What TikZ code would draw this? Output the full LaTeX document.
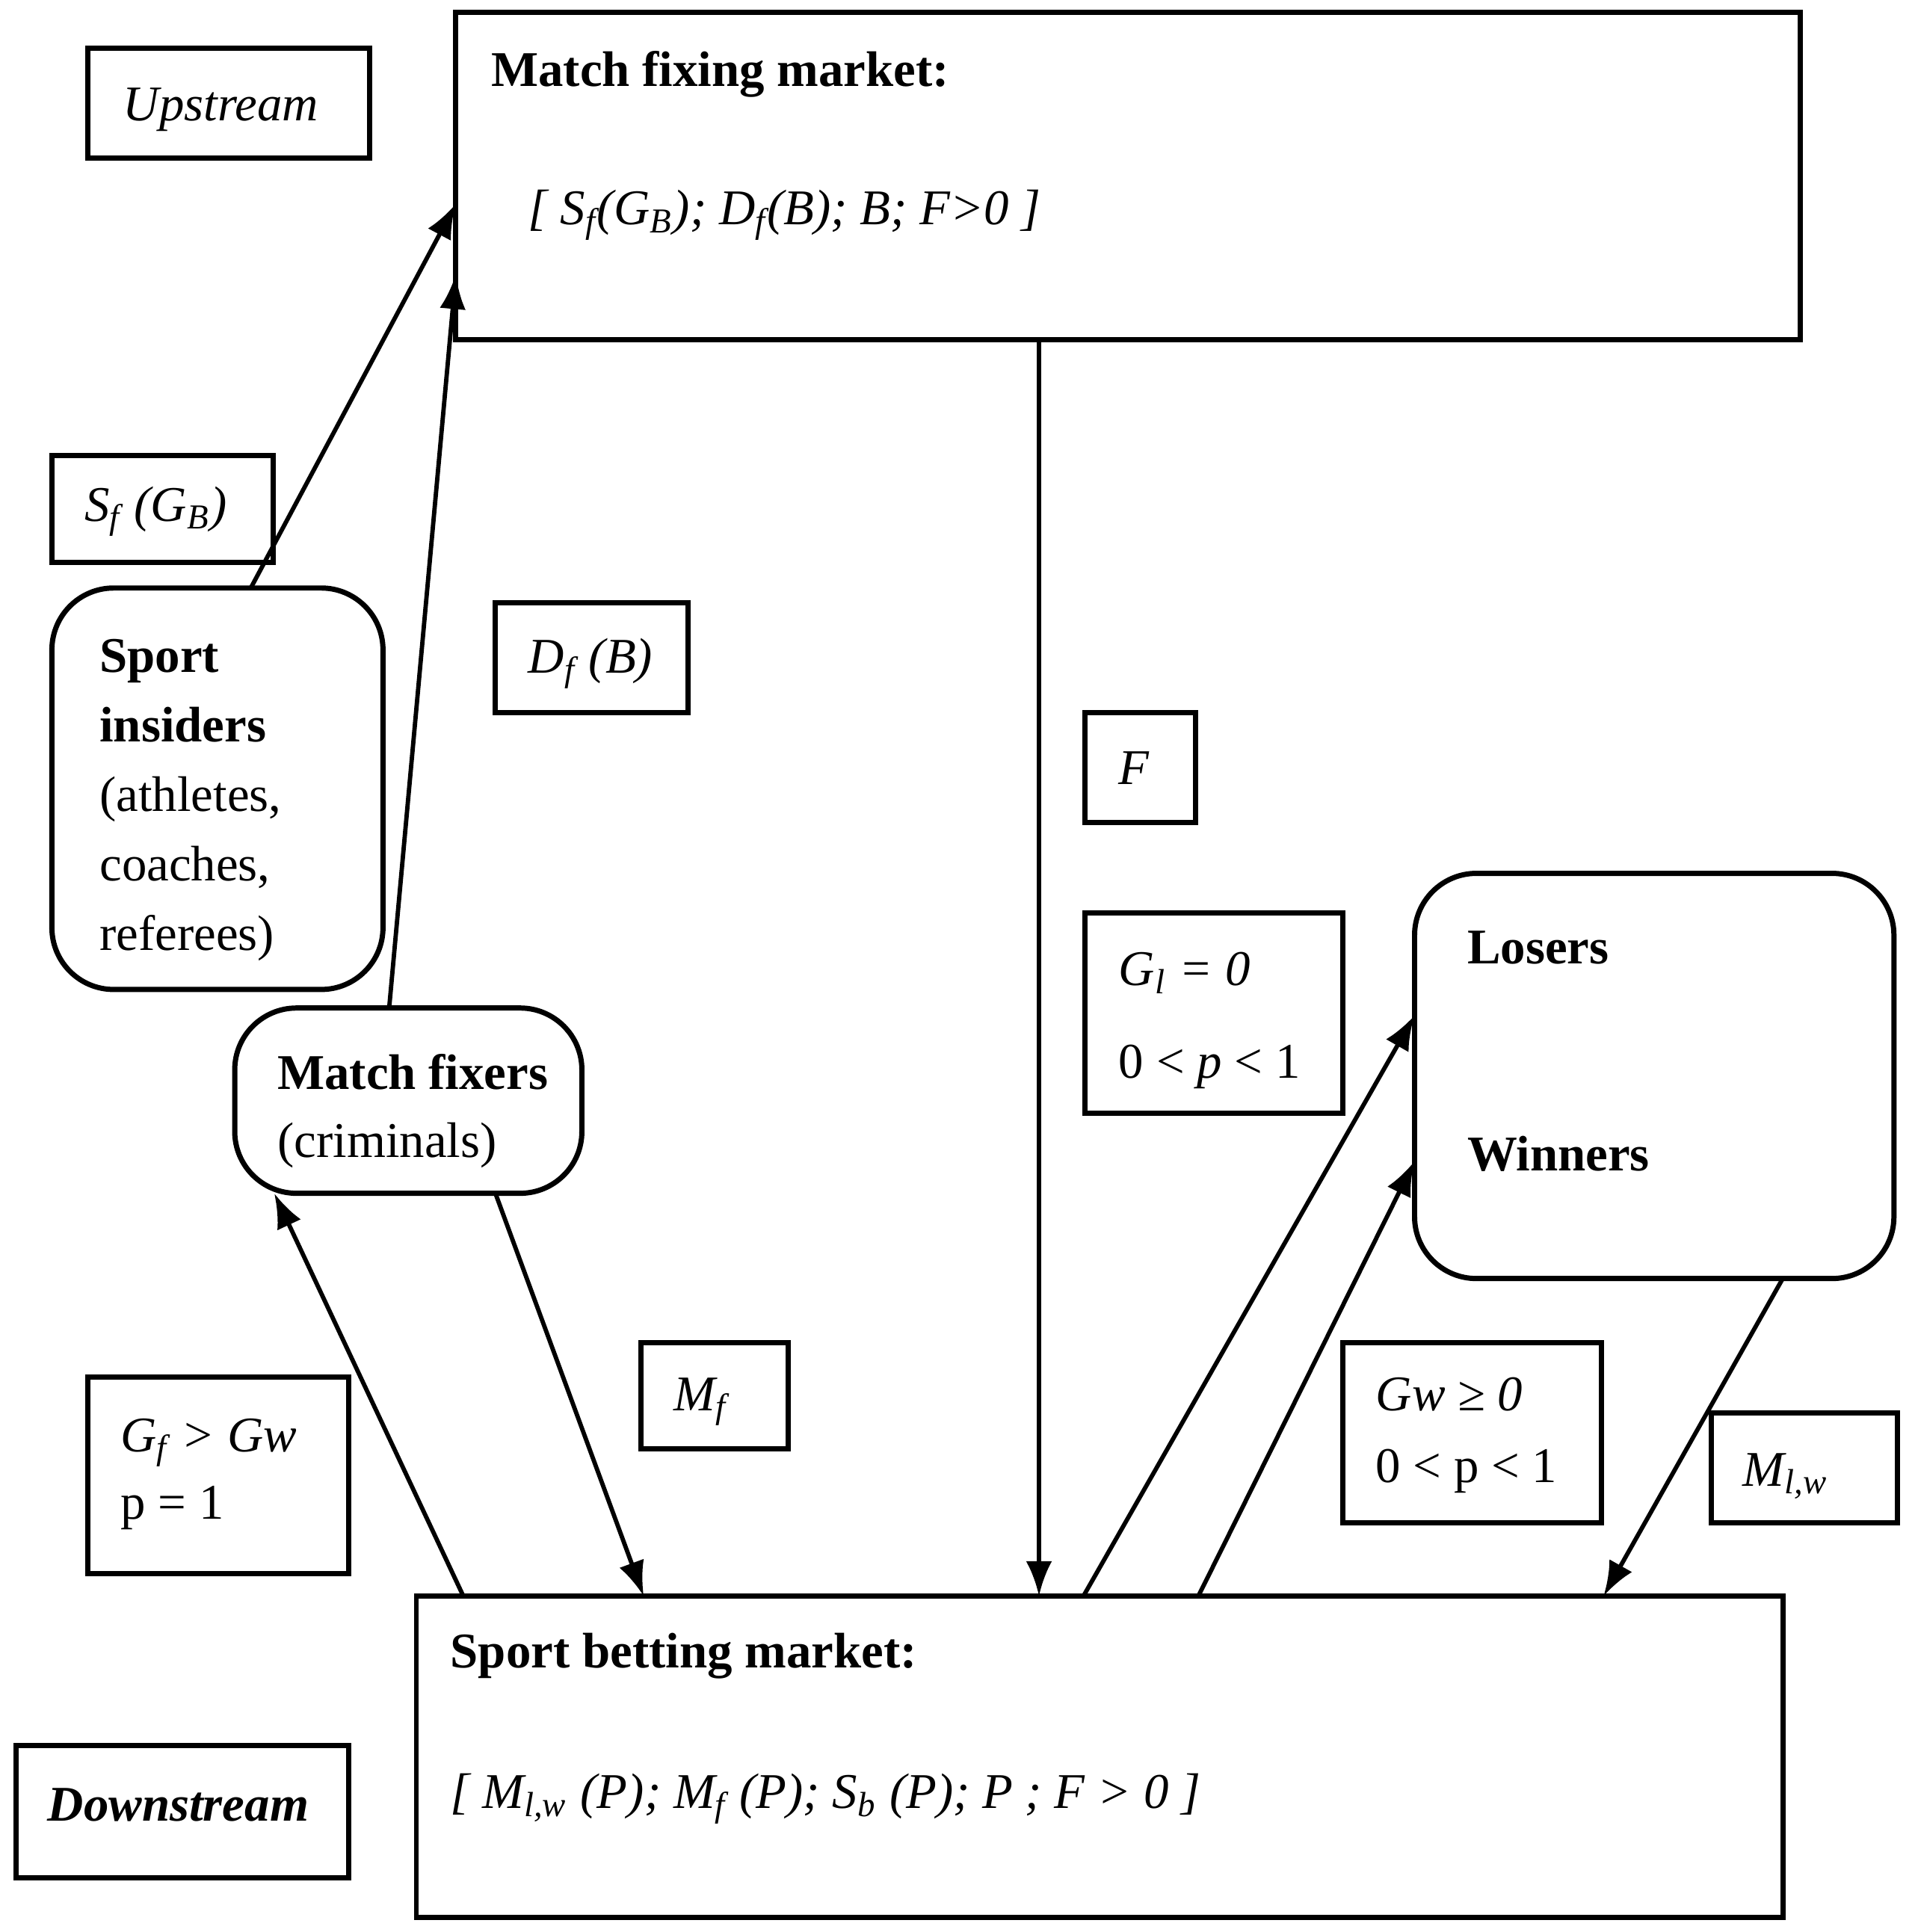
\documentclass[tikz,border=0pt]{standalone}
\usepackage{fontspec}
\setmainfont{Liberation Serif}
\usetikzlibrary{arrows.meta}
\newcommand{\sbs}[1]{\textsubscript{#1}}
\begin{document}
\begin{tikzpicture}[x=0.01cm,y=-0.01cm,
 box/.style={draw,line width=1.2pt},
 rbox/.style={draw,line width=1.2pt,rounded corners=0.5cm},
 t/.style={anchor=base west,inner sep=0pt,font=\fontsize{11.5}{16}\selectfont},
 ar/.style={line width=1pt,-{Latex[length=8pt,width=6pt]}}]
\useasboundingbox (0,0) rectangle (1552,1564);
\draw[box] (71,39) rectangle (299,128);
\node[t] (up) at (99,98) {\textit{Upstream}};
\draw[box] (369,10) rectangle (1457,275);
\node[t] (mfm) at (397,70) {\textbf{Match fixing market:}};
\node[t] (mfmf) at (427,182) {\textit{[ S\sbs{f}(G\sbs{B}); D\sbs{f}(B); B; F>0 ]}};
\draw[box] (42,369) rectangle (221,455);
\node[t] (sf) at (68,422) {\textit{S\sbs{f} (G\sbs{B})}};
\draw[rbox] (42,476) rectangle (310,801);
\node[t,align=left,anchor=north west,font=\fontsize{11.5}{16}\selectfont] (ins) at (80,517) {\textbf{Sport}\\\textbf{insiders}\\(athletes,\\coaches,\\referees)};
\draw[box] (401,488) rectangle (557,577);
\node[t] (df) at (427,545) {\textit{D\sbs{f} (B)}};
\draw[box] (878,577) rectangle (968,666);
\node[t] (F) at (905,635) {\textit{F}};
\draw[box] (878,739) rectangle (1087,901);
\node[t] (gl) at (905,798) {\textit{G\sbs{l} = 0}};
\node[t] (gl2) at (905,873) {0 < \textit{p} < 1};
\draw[rbox] (1145,707) rectangle (1533,1035);
\node[t] (los) at (1187,780) {\textbf{Losers}};
\node[t] (win) at (1187,948) {\textbf{Winners}};
\draw[rbox] (190,816) rectangle (471,966);
\node[t] (mfx) at (224,882) {\textbf{Match fixers}};
\node[t] (mfx2) at (224,937) {(criminals)};
\draw[box] (519,1087) rectangle (638,1173);
\node[t] (mf) at (545,1142) {\textit{M\sbs{f}}};
\draw[box] (71,1115) rectangle (282,1274);
\node[t] (gf) at (97,1175) {\textit{G\sbs{f} > Gw}};
\node[t] (gf2) at (97,1230) {p = 1};
\draw[box] (1087,1087) rectangle (1296,1233);
\node[t] (gw) at (1113,1142) {\textit{Gw ≥ 0}};
\node[t] (gw2) at (1113,1200) {0 < p < 1};
\draw[box] (1385,1144) rectangle (1536,1233);
\node[t] (mlw) at (1410,1203) {\textit{M\sbs{l,w}}};
\draw[box] (13,1413) rectangle (282,1520);
\node[t] (down) at (38,1474) {\textbf{\textit{Downstream}}};
\draw[box] (337,1292) rectangle (1443,1552);
\node[t] (sbm) at (364,1350) {\textbf{Sport betting market:}};
\node[t] (sbmf) at (364,1464) {\textit{[ M\sbs{l,w} (P); M\sbs{f} (P); S\sbs{b} (P); P ; F > 0 ]}};
\coordinate (a1) at (203,476); \coordinate (b1) at (369,165);
\coordinate (a2) at (315,816); \coordinate (b2) at (369,222);
\coordinate (a3) at (841,275); \coordinate (b3) at (841,1292);
\coordinate (a4) at (877,1292); \coordinate (b4) at (1145,822);
\coordinate (a5) at (970,1292); \coordinate (b5) at (1145,940);
\coordinate (a6) at (1443,1035); \coordinate (b6) at (1298,1292);
\coordinate (a7) at (401,966); \coordinate (b7) at (521,1292);
\coordinate (a8) at (375,1292); \coordinate (b8) at (222,966);
\foreach \i in {1,...,8} \draw[ar] (a\i) -- (b\i);
\end{tikzpicture}
\end{document}
